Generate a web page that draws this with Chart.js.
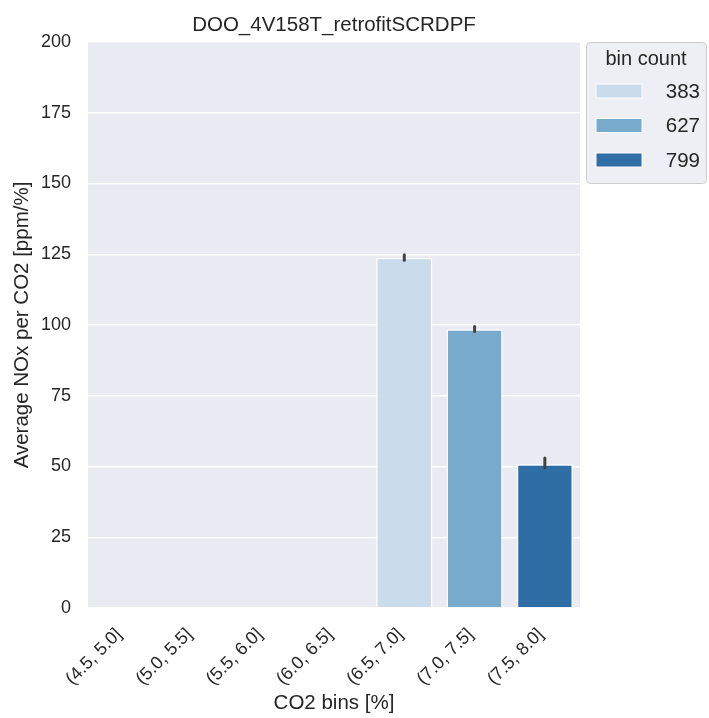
<!DOCTYPE html>
<html>
<head>
<meta charset="utf-8">
<script src="https://cdn.jsdelivr.net/npm/chart.js@4.4.1/dist/chart.umd.min.js"></script>
<style>
  html, body { margin: 0; padding: 0; background: #ffffff; }
  #wrap { width: 709px; height: 718px; }
</style>
</head>
<body>
<div id="wrap"><canvas id="nox-barchart" width="709" height="718"></canvas></div>
<script>
// data
const co2Bins = ['(4.5, 5.0]', '(5.0, 5.5]', '(5.5, 6.0]', '(6.0, 6.5]', '(6.5, 7.0]', '(7.0, 7.5]', '(7.5, 8.0]'];
const noxPerCo2 = [null, null, null, null, 123.8, 98.5, 50.8];
const ciLow = [null, null, null, null, 122.9, 97.7, 49.6];
const ciHigh = [null, null, null, null, 124.8, 99.5, 53.0];
const binCounts = [null, null, null, null, 383, 627, 799];
const yTicks = [0, 25, 50, 75, 100, 125, 150, 175, 200];

const chartTitle = 'DOO_4V158T_retrofitSCRDPF';
const barColors = ['#cadcec', '#77aacb', '#2f6da5'];
const textColor = '#262626';
const fontFamily = '"Liberation Sans", Arial, sans-serif';

// colour per bar, picked by bin count rank
const countsSorted = binCounts.filter(c => c !== null).sort((a, b) => a - b);
const colorOf = c => c === null ? 'rgba(0,0,0,0)' : barColors[countsSorted.indexOf(c)];

const plotBackground = {
    id: 'plotBackground',
    beforeDraw(chart) {
        const { ctx, chartArea } = chart;
        ctx.save();
        ctx.fillStyle = '#eaeaf2';
        ctx.fillRect(chartArea.left, chartArea.top, chartArea.right - chartArea.left, chartArea.bottom - chartArea.top);
        ctx.restore();
    }
};

// title centred over the plot area, like matplotlib does
const axesTitle = {
    id: 'axesTitle',
    afterDraw(chart) {
        const { ctx, chartArea } = chart;
        ctx.save();
        ctx.fillStyle = textColor;
        ctx.font = '20.5px ' + fontFamily;
        ctx.textAlign = 'center';
        ctx.textBaseline = 'alphabetic';
        ctx.fillText(chartTitle, (chartArea.left + chartArea.right) / 2, chartArea.top - 11);
        ctx.restore();
    }
};

const errorBars = {
    id: 'errorBars',
    afterDatasetsDraw(chart) {
        const { ctx } = chart;
        const meta = chart.getDatasetMeta(0);
        const y = chart.scales.y;
        ctx.save();
        ctx.strokeStyle = '#424242';
        ctx.lineWidth = 3;
        ctx.lineCap = 'round';
        meta.data.forEach((bar, i) => {
            if (ciLow[i] === null) return;
            ctx.beginPath();
            ctx.moveTo(bar.x, y.getPixelForValue(ciLow[i]));
            ctx.lineTo(bar.x, y.getPixelForValue(ciHigh[i]));
            ctx.stroke();
        });
        ctx.restore();
    }
};

const hueLegend = {
    id: 'hueLegend',
    afterDraw(chart) {
        const { ctx, chartArea } = chart;
        const x0 = chartArea.right + 6, y0 = chartArea.top, w = 120, h = 141;
        ctx.save();
        ctx.fillStyle = 'rgba(234,234,242,0.8)';
        ctx.strokeStyle = '#cccccc';
        ctx.lineWidth = 1;
        ctx.beginPath();
        ctx.roundRect(x0 + 0.5, y0 + 0.5, w, h, 4);
        ctx.fill();
        ctx.stroke();
        ctx.fillStyle = textColor;
        ctx.textAlign = 'center';
        ctx.textBaseline = 'middle';
        ctx.font = '20px ' + fontFamily;
        ctx.fillText('bin count', x0 + w / 2, y0 + 17);
        ctx.font = '20.5px ' + fontFamily;
        countsSorted.forEach((c, i) => {
            const cy = y0 + 49 + i * 34.5;
            ctx.fillStyle = colorOf(c);
            ctx.fillRect(x0 + 10, cy - 7, 46, 14);
            ctx.strokeStyle = '#ffffff';
            ctx.strokeRect(x0 + 10, cy - 7, 46, 14);
            ctx.fillStyle = textColor;
            ctx.textAlign = 'right';
            ctx.fillText(String(c), x0 + 114, cy + 1);
        });
        ctx.restore();
    }
};

const chartCtx = document.getElementById('nox-barchart').getContext('2d');

const noxChart = new Chart(chartCtx, {
    type: 'bar',
    data: {
        labels: co2Bins,
        datasets: [{
            label: 'Average NOx per CO2',
            data: noxPerCo2,
            backgroundColor: binCounts.map(colorOf),
            borderColor: '#ffffff',
            borderWidth: 1.5,
            borderSkipped: 'bottom',
            categoryPercentage: 1.0,
            barPercentage: 0.8
        }]
    },
    options: {
        responsive: false,
        animation: false,
        layout: { padding: { left: 0, right: 129, top: 42, bottom: 0 } },
        plugins: {
            legend: { display: false },
            tooltip: { enabled: false },
            title: { display: false }
        },
        scales: {
            x: {
                grid: { display: false },
                border: { display: false },
                ticks: {
                    color: textColor,
                    font: { family: fontFamily, size: 18 },
                    minRotation: 45,
                    maxRotation: 45,
                    autoSkip: false,
                    labelOffset: -4,
                    padding: 8
                },
                title: {
                    display: true,
                    text: 'CO2 bins [%]',
                    color: textColor,
                    font: { family: fontFamily, size: 20.5 },
                    padding: { top: 0, bottom: 2 }
                },
                afterFit(scale) { scale.height = 110; }
            },
            y: {
                min: 0,
                max: 200,
                grid: { color: '#ffffff', lineWidth: 1.5, drawTicks: false },
                border: { display: false },
                afterBuildTicks(scale) { scale.ticks = yTicks.map(v => ({ value: v })); },
                ticks: {
                    color: textColor,
                    font: { family: fontFamily, size: 18 },
                    padding: 17
                },
                title: {
                    display: true,
                    text: 'Average NOx per CO2 [ppm/%]',
                    color: textColor,
                    font: { family: fontFamily, size: 20.5 },
                    padding: { top: 10, bottom: 6 }
                },
                afterFit(scale) { scale.width = 88; }
            }
        }
    },
    plugins: [plotBackground, errorBars, axesTitle, hueLegend]
});
</script>
</body>
</html>
